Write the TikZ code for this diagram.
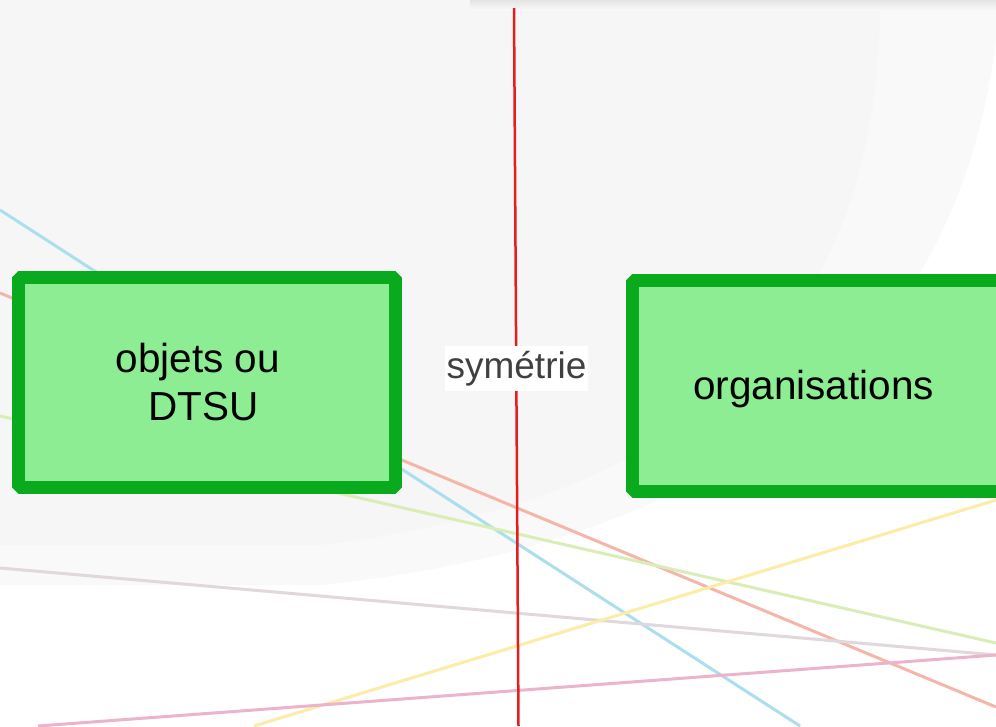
\documentclass[tikz,border=0pt]{standalone}
\usepackage{fontspec}
\setmainfont{Liberation Sans}
\definecolor{boxgreen}{RGB}{10,170,30}
\definecolor{boxfill}{RGB}{140,237,147}
\definecolor{symred}{RGB}{228,30,30}
\definecolor{symgray}{RGB}{64,64,64}
\definecolor{bggrayA}{RGB}{249,249,249}
\definecolor{bggrayB}{RGB}{246,246,246}
\definecolor{bandgray}{RGB}{228,228,228}
\definecolor{lblue}{RGB}{172,222,238}
\definecolor{lsalmon}{RGB}{244,182,168}
\definecolor{lgreen}{RGB}{216,238,182}
\definecolor{lgrey}{RGB}{224,216,220}
\definecolor{lyellow}{RGB}{252,236,166}
\definecolor{lpink}{RGB}{236,180,204}
\begin{document}
\begin{tikzpicture}[x=1pt,y=-1pt,
  box/.style={draw=boxgreen, fill=boxfill, line width=13pt, line join=bevel, inner sep=0pt},
  lbl/.style={font=\fontsize{40.5}{48}\selectfont, text=black, inner sep=0pt, align=center},
  bgline/.style={line width=3pt}]
\useasboundingbox (0,0) rectangle (996,726);
% background
\fill[white] (0,0) rectangle (996,726);
\fill[bggrayA] (0,0) -- (996,0) -- (996,40) .. controls (960,330) and (760,540) .. (320,585) -- (0,585) -- cycle;
\fill[bggrayB] (0,0) -- (880,0) .. controls (880,320) and (700,500) .. (320,545) -- (0,545) -- cycle;
\shade[top color=bandgray, bottom color=bggrayA] (470,0) rectangle (996,10);
% decorative lines
\draw[bgline, lblue] (0,210) -- (800,726);
\draw[bgline, lsalmon] (0,293) -- (996,707);
\draw[bgline, lgreen] (0,416) -- (996,643);
\draw[bgline, lgrey] (0,568) -- (996,655);
\draw[bgline, lyellow] (254,726) -- (996,500);
\draw[bgline, lpink] (38,726) -- (996,655);
% boxes
\node[box, minimum width=377pt, minimum height=210pt] (objbox) at (206.5,382) {};
\node[box, minimum width=377pt, minimum height=211pt] (orgbox) at (820.5,386) {};
\node[lbl, anchor=base] (objtxt) at (203.5,420) {objets ou\kern.278em\\DTSU};
\node[lbl, anchor=base] (orgtxt) at (813.5,399) {organisations};
% symmetry axis
\coordinate (rtop) at (514,8);
\coordinate (rbot) at (518.5,726);
\draw[symred, line width=2.5pt] (rtop) -- (rbot);
\node[fill=white, minimum width=143pt, minimum height=45pt, inner sep=0pt, text=symgray, font=\fontsize{37}{44}\selectfont] (sym) at (516.5,368.5) {symétrie};
\end{tikzpicture}
\end{document}
